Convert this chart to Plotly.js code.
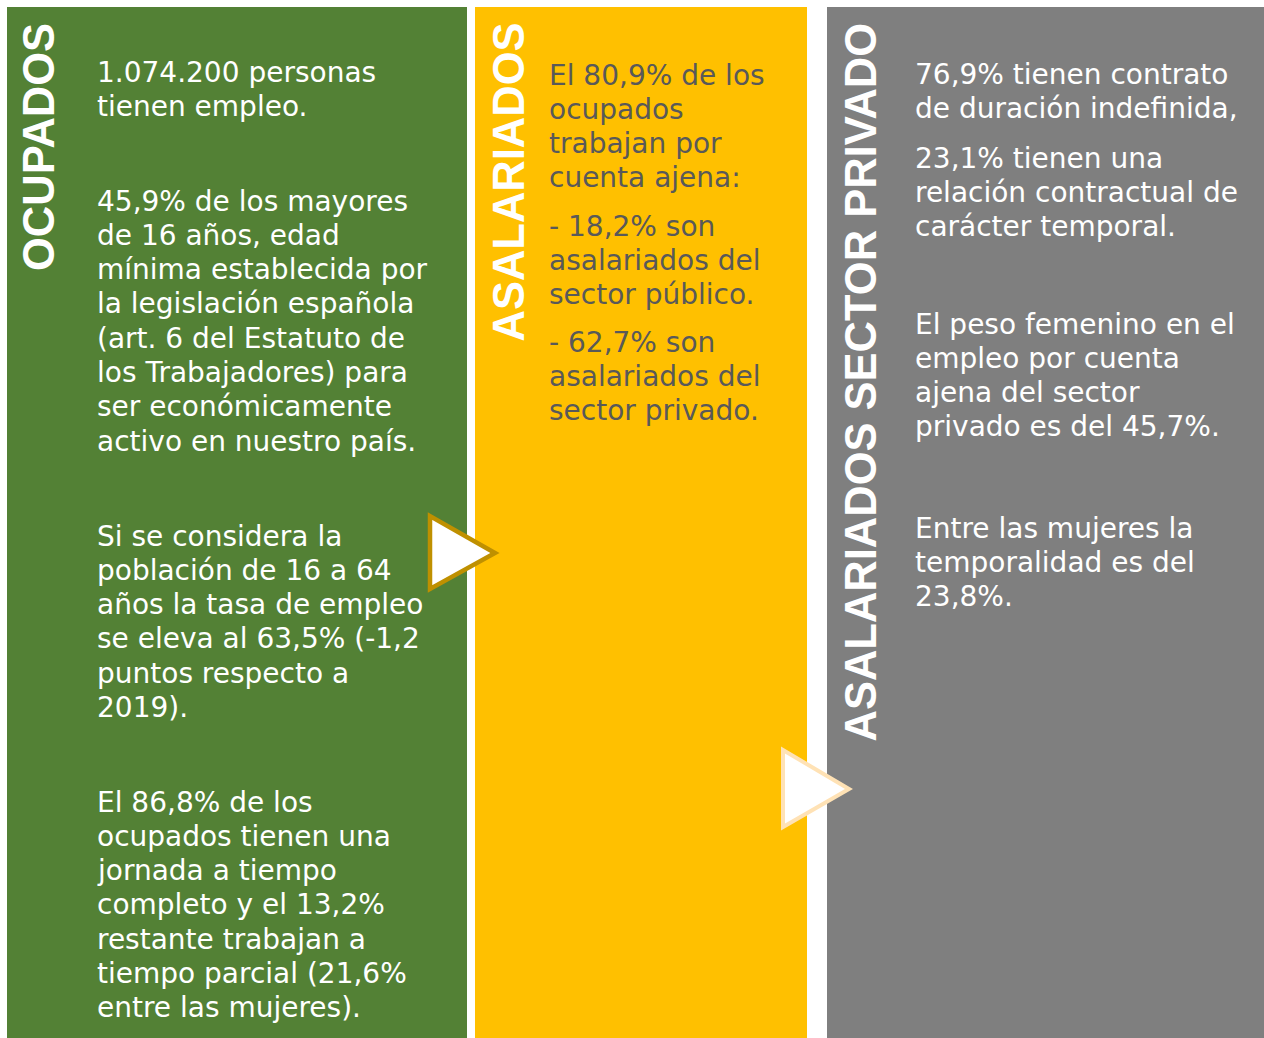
<!DOCTYPE html>
<html>
<head>
<meta charset="utf-8">
<script src="https://cdn.plot.ly/plotly-3.0.1.min.js"></script>
<style>html,body{margin:0;padding:0;background:#fff}#chart{width:1264px;height:1038px}</style>
</head>
<body>
<div id="chart"></div>
<script>
// ---- Data (text content) ----
const panelTitles = ["OCUPADOS", "ASALARIADOS", "ASALARIADOS SECTOR PRIVADO"];

const ocupadosParagraphs = [
  ["1.074.200 personas", "tienen empleo."],
  ["45,9% de los mayores", "de 16 años, edad", "mínima establecida por", "la legislación española", "(art. 6 del Estatuto de", "los Trabajadores) para", "ser económicamente", "activo en nuestro país."],
  ["Si se considera la", "población de 16 a 64", "años la tasa de empleo", "se eleva al 63,5% (-1,2", "puntos respecto a", "2019)."],
  ["El 86,8% de los", "ocupados tienen una", "jornada a tiempo", "completo y el 13,2%", "restante trabajan a", "tiempo parcial (21,6%", "entre las mujeres)."]
];

const asalariadosParagraphs = [
  ["El 80,9% de los", "ocupados", "trabajan por", "cuenta ajena:"],
  ["- 18,2% son", "asalariados del", "sector público."],
  ["- 62,7% son", "asalariados del", "sector privado."]
];

const privadoParagraphs = [
  ["76,9% tienen contrato", "de duración indefinida,"],
  ["23,1% tienen una", "relación contractual de", "carácter temporal."],
  ["El peso femenino en el", "empleo por cuenta", "ajena del sector", "privado es del 45,7%."],
  ["Entre las mujeres la", "temporalidad es del", "23,8%."]
];

// ---- Layout constants ----
const W = 1264, H = 1038;
const LINE = 34.3;
const bodyFont = "DejaVu Sans";
const titleFont = "Liberation Sans";

const panels = [
  {x0: 7, x1: 467, color: "#538135", titleX: 39, textX: 95, textColor: "#ffffff", paras: ocupadosParagraphs, starts: [72, 201, 536, 802]},
  {x0: 475, x1: 807, color: "#FFC000", titleX: 508, textX: 547, textColor: "#595959", paras: asalariadosParagraphs, starts: [75, 226, 342]},
  {x0: 827, x1: 1264, color: "#7F7F7F", titleX: 860, textX: 913, textColor: "#ffffff", paras: privadoParagraphs, starts: [74, 158, 324, 528]}
];

const shapes = [];
const annotations = [];

panels.forEach((p, idx) => {
  shapes.push({type: "rect", xref: "x", yref: "y", x0: p.x0, x1: p.x1, y0: 7, y1: H, fillcolor: p.color, line: {width: 0}, layer: "below"});
  annotations.push({
    xref: "x", yref: "y", x: p.titleX, y: 21, xanchor: "center", yanchor: "top",
    text: panelTitles[idx], textangle: -90, showarrow: false,
    font: {family: titleFont, size: 43.5, color: "#ffffff", weight: "bold"}
  });
  p.paras.forEach((lines, j) => {
    lines.forEach((ln, k) => {
      annotations.push({
        xref: "x", yref: "y", x: p.textX, y: p.starts[j] + k * LINE,
        xanchor: "left", yanchor: "middle", align: "left",
        text: ln, showarrow: false,
        font: {family: bodyFont, size: 28, color: p.textColor}
      });
    });
  });
});

// Arrow triangles
shapes.push({type: "path", xref: "x", yref: "y", path: "M 430 516 L 430 589 L 495 553 Z",
  fillcolor: "#ffffff", line: {color: "#BF9000", width: 4.5}, layer: "above"});
shapes.push({type: "path", xref: "x", yref: "y", path: "M 783 750 L 783 827 L 849 789 Z",
  fillcolor: "#ffffff", line: {color: "#FFE2B5", width: 4}, layer: "above"});

const layout = {
  width: W, height: H,
  margin: {l: 0, r: 0, t: 0, b: 0},
  paper_bgcolor: "#ffffff", plot_bgcolor: "#ffffff",
  xaxis: {range: [0, W], visible: false, fixedrange: true},
  yaxis: {range: [H, 0], visible: false, fixedrange: true},
  shapes: shapes,
  annotations: annotations,
  showlegend: false
};

Plotly.newPlot("chart", [], layout, {displayModeBar: false, staticPlot: true});
</script>
</body>
</html>
